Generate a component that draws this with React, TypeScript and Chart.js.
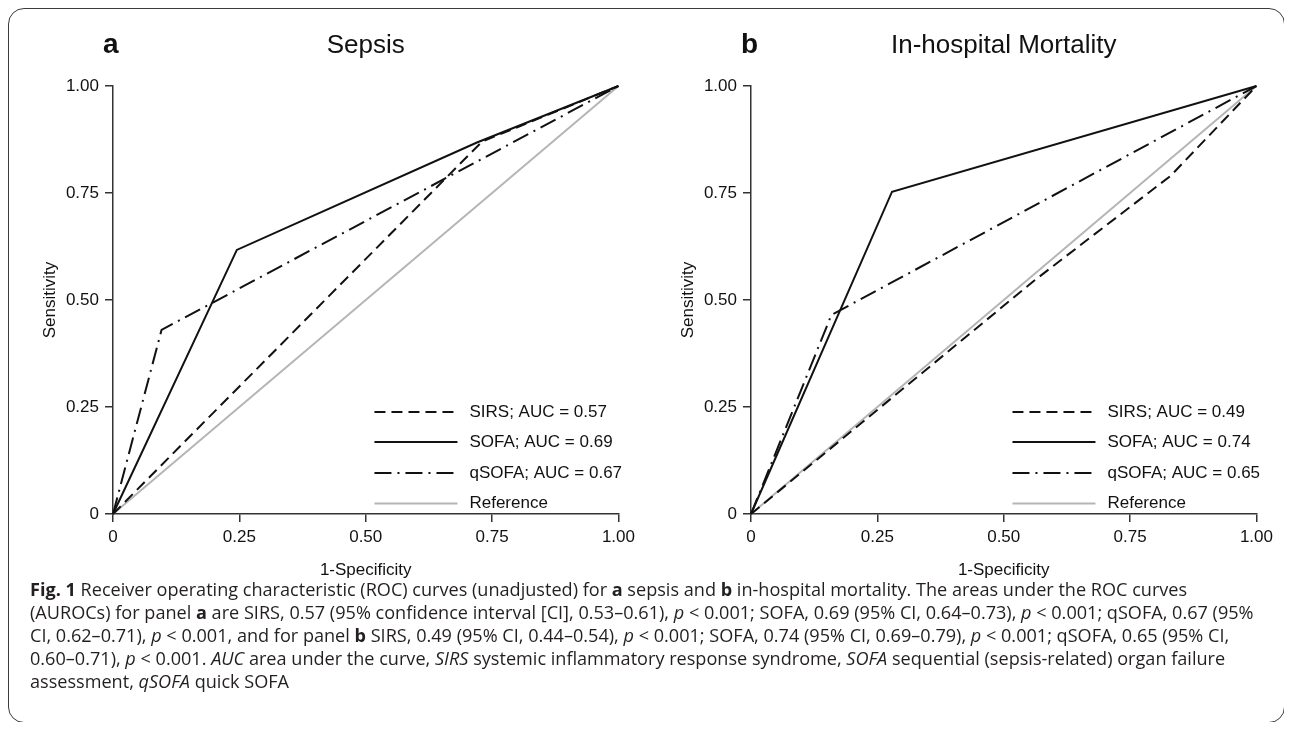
import React, { useEffect, useRef } from "react";
import { Chart, registerables } from "chart.js";

Chart.register(...registerables);

// ---------- data ----------
const axisTickValues = [0, 0.25, 0.5, 0.75, 1];
const axisTickLabels = ["0", "0.25", "0.50", "0.75", "1.00"];
const seriesNames = ["SIRS", "SOFA", "qSOFA", "Reference"];

// Panel a: Sepsis
const sepsisAuc = ["0.57", "0.69", "0.67"];
const sepsisSirsFpr = [0, 0.73, 1];
const sepsisSirsTpr = [0, 0.87, 1];
const sepsisSofaFpr = [0, 0.245, 0.72, 1];
const sepsisSofaTpr = [0, 0.617, 0.868, 1];
const sepsisQsofaFpr = [0, 0.096, 1];
const sepsisQsofaTpr = [0, 0.43, 1];

// Panel b: In-hospital mortality
const mortAuc = ["0.49", "0.74", "0.65"];
const mortSirsFpr = [0, 0.56, 0.83, 1];
const mortSirsTpr = [0, 0.545, 0.79, 1];
const mortSofaFpr = [0, 0.279, 1];
const mortSofaTpr = [0, 0.753, 1];
const mortQsofaFpr = [0, 0.159, 1];
const mortQsofaTpr = [0, 0.465, 1];

// Reference diagonal
const refFpr = [0, 1];
const refTpr = [0, 1];

// ---------- styling ----------
const FAMILY = '"Liberation Sans", Arial, Helvetica, sans-serif';
const INK = "#111111";
const AXIS = "#333333";

const seriesStyles = [
  { color: "#111111", width: 2, dash: [11, 6] },
  { color: "#111111", width: 2, dash: [] as number[] },
  { color: "#111111", width: 2, dash: [17, 6, 2, 6] },
  { color: "#b5b5b5", width: 2, dash: [] as number[] },
];

const toPoints = (xs: number[], ys: number[]) => xs.map((x, i) => ({ x, y: ys[i] }));

const decorPlugin = {
  id: "decor",
  afterDraw(chart: any, _args: any, opts: any) {
    const { ctx, chartArea: a } = chart;
    ctx.save();
    ctx.fillStyle = INK;
    ctx.textBaseline = "alphabetic";
    ctx.textAlign = "left";
    ctx.font = `bold 28px ${FAMILY}`;
    ctx.fillText(opts.letter, a.left - 10, 33);
    ctx.textAlign = "center";
    ctx.font = `26px ${FAMILY}`;
    ctx.fillText(opts.title, (a.left + a.right) / 2, 33);

    ctx.font = `17px ${FAMILY}`;
    ctx.textBaseline = "middle";
    ctx.fillText(opts.xTitle, (a.left + a.right) / 2, 550);
    ctx.save();
    ctx.translate(30, (a.top + a.bottom) / 2);
    ctx.rotate(-Math.PI / 2);
    ctx.fillText(opts.yTitle, 0, 0);
    ctx.restore();

    const rows = [-102, -72, -41, -10.5];
    chart.data.datasets.forEach((ds: any, i: number) => {
      const y = a.bottom + rows[i];
      ctx.beginPath();
      ctx.setLineDash(ds.borderDash || []);
      ctx.lineWidth = ds.borderWidth;
      ctx.strokeStyle = ds.borderColor;
      ctx.moveTo(a.right - 244, y);
      ctx.lineTo(a.right - 161, y);
      ctx.stroke();
      ctx.setLineDash([]);
      ctx.textAlign = "left";
      ctx.fillStyle = INK;
      ctx.fillText(ds.label, a.right - 149, y);
    });
    ctx.restore();
  },
};

function axisOptions(isX: boolean) {
  return {
    type: "linear",
    min: 0,
    max: 1,
    afterBuildTicks: (s: any) => {
      s.ticks = axisTickValues.map((v) => ({ value: v }));
    },
    afterFit: (s: any) => {
      if (isX) s.height = 76;
      else s.width = 93;
    },
    ticks: {
      callback: (_v: any, i: number) => axisTickLabels[i],
      font: { size: 17, family: FAMILY },
      color: INK,
      padding: isX ? 5 : 6,
      maxRotation: 0,
      autoSkip: false,
    },
    grid: {
      drawOnChartArea: false,
      drawTicks: true,
      tickLength: 8,
      color: AXIS,
      lineWidth: 1.5,
    },
    border: { display: true, color: AXIS, width: 1.5 },
  };
}

type PanelProps = {
  letter: string;
  title: string;
  auc: string[];
  curves: { fpr: number[]; tpr: number[] }[];
  rightPad: number;
};

function Panel({ letter, title, auc, curves, rightPad }: PanelProps) {
  const ref = useRef<HTMLCanvasElement | null>(null);
  useEffect(() => {
    if (!ref.current) return;
    const datasets = curves.map((c, i) => ({
      label: i < 3 ? `${seriesNames[i]}; AUC = ${auc[i]}` : seriesNames[i],
      data: toPoints(c.fpr, c.tpr),
      showLine: true,
      borderColor: seriesStyles[i].color,
      borderWidth: seriesStyles[i].width,
      borderDash: seriesStyles[i].dash,
      pointRadius: 0,
      fill: false,
      clip: false,
      tension: 0,
    }));
    const chart = new Chart(ref.current, {
      type: "scatter",
      data: { datasets },
      options: {
        animation: false,
        responsive: false,
        maintainAspectRatio: false,
        layout: { padding: { top: 66, right: rightPad, left: 0, bottom: 0 } },
        scales: { x: axisOptions(true), y: axisOptions(false) } as any,
        plugins: {
          legend: { display: false },
          tooltip: { enabled: false },
          decor: { letter, title, xTitle: "1-Specificity", yTitle: "Sensitivity" },
        } as any,
      },
      plugins: [decorPlugin],
    } as any);
    return () => chart.destroy();
  }, []);
  return <canvas ref={ref} width={620} height={570} style={{ width: 620, height: 570, display: "block" }} />;
}

const capStyle: React.CSSProperties = {
  position: "absolute",
  left: 22,
  top: 570,
  fontFamily: '"Open Sans", "Noto Sans", sans-serif',
  fontSize: 18.1,
  lineHeight: "23px",
  color: "#231f20",
  whiteSpace: "nowrap",
};

export default function App() {
  return (
    <div style={{ position: "relative", width: 1276, height: 714, fontFamily: FAMILY }}>
      <div
        style={{
          position: "absolute",
          left: 0,
          top: 0,
          width: 1277,
          height: 715,
          boxSizing: "border-box",
          border: "1.5px solid #3a3a3a",
          borderRadius: 16,
        }}
      />
      <div style={{ position: "absolute", left: 12, top: 12 }}>
        <Panel
          letter="a"
          title="Sepsis"
          auc={sepsisAuc}
          rightPad={21}
          curves={[
            { fpr: sepsisSirsFpr, tpr: sepsisSirsTpr },
            { fpr: sepsisSofaFpr, tpr: sepsisSofaTpr },
            { fpr: sepsisQsofaFpr, tpr: sepsisQsofaTpr },
            { fpr: refFpr, tpr: refTpr },
          ]}
        />
      </div>
      <div style={{ position: "absolute", left: 650, top: 12 }}>
        <Panel
          letter="b"
          title="In-hospital Mortality"
          auc={mortAuc}
          rightPad={20}
          curves={[
            { fpr: mortSirsFpr, tpr: mortSirsTpr },
            { fpr: mortSofaFpr, tpr: mortSofaTpr },
            { fpr: mortQsofaFpr, tpr: mortQsofaTpr },
            { fpr: refFpr, tpr: refTpr },
          ]}
        />
      </div>
      <div style={capStyle}>
        <div>
          <b>Fig. 1</b> Receiver operating characteristic (ROC) curves (unadjusted) for <b>a</b> sepsis and <b>b</b>{" "}
          in-hospital mortality. The areas under the ROC curves
        </div>
        <div>
          (AUROCs) for panel <b>a</b> are SIRS, 0.57 (95% confidence interval [CI], 0.53–0.61), <i>p</i> &lt; 0.001; SOFA,
          0.69 (95% CI, 0.64–0.73), <i>p</i> &lt; 0.001; qSOFA, 0.67 (95%
        </div>
        <div>
          CI, 0.62–0.71), <i>p</i> &lt; 0.001, and for panel <b>b</b> SIRS, 0.49 (95% CI, 0.44–0.54), <i>p</i> &lt; 0.001;
          SOFA, 0.74 (95% CI, 0.69–0.79), <i>p</i> &lt; 0.001; qSOFA, 0.65 (95% CI,
        </div>
        <div>
          0.60–0.71), <i>p</i> &lt; 0.001. <i>AUC</i> area under the curve, <i>SIRS</i> systemic inflammatory response
          syndrome, <i>SOFA</i> sequential (sepsis-related) organ failure
        </div>
        <div>
          assessment, <i>qSOFA</i> quick SOFA
        </div>
      </div>
    </div>
  );
}
